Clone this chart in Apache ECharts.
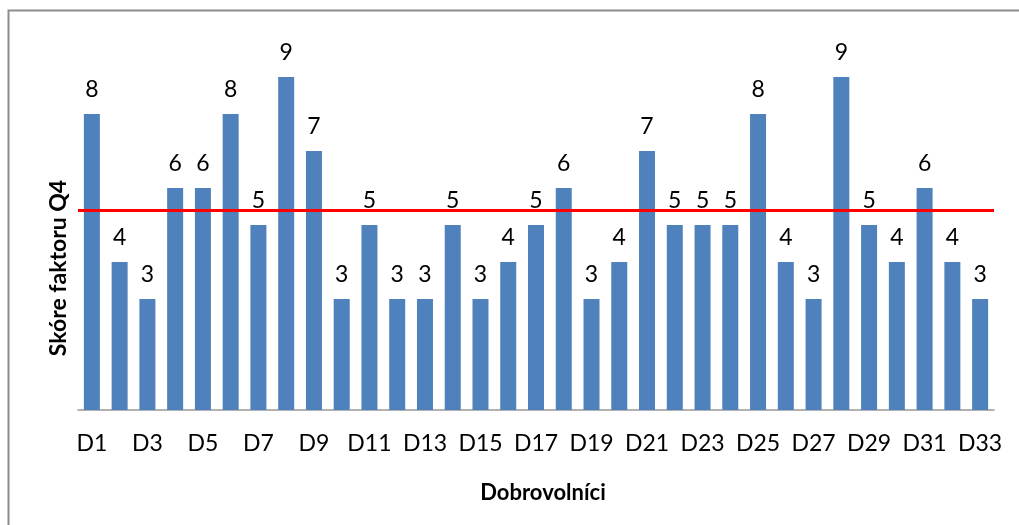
<!DOCTYPE html>
<html>
<head>
<meta charset="utf-8">
<script src="https://cdn.jsdelivr.net/npm/echarts@6/dist/echarts.min.js"></script>
<style>
html,body{margin:0;padding:0;background:#fff;}
#chart{width:1019px;height:525px;}
</style>
</head>
<body>
<div id="chart"></div>
<script>
const categories = ['D1','D2','D3','D4','D5','D6','D7','D8','D9','D10','D11','D12','D13','D14','D15','D16','D17','D18','D19','D20','D21','D22','D23','D24','D25','D26','D27','D28','D29','D30','D31','D32','D33'];
const scores = [8,4,3,6,6,8,5,9,7,3,5,3,3,5,3,4,5,6,3,4,7,5,5,5,8,4,3,9,5,4,6,4,3];
const referenceLevel = 5.4;
const yTitle = 'Skóre faktoru Q4';
const xTitle = 'Dobrovolníci';

const chart = echarts.init(document.getElementById('chart'));
chart.setOption({
  animation: false,
  backgroundColor: '#fff',
  textStyle: { fontFamily: 'Lato' },
  graphic: [
    { type: 'rect', shape: { x: 8.5, y: 10.5, width: 1100, height: 600 }, style: { fill: 'none', stroke: '#8c8c8c', lineWidth: 2 }, z: -1 },
    { type: 'text', x: 59, y: 268, rotation: Math.PI / 2, style: { text: yTitle, font: 'bold 23px Lato', fill: '#000', align: 'center', verticalAlign: 'middle' } },
    { type: 'text', x: 543, y: 493, style: { text: xTitle, font: 'bold 22px Lato', fill: '#000', align: 'center', verticalAlign: 'middle' } }
  ],
  grid: { left: 78, right: 25, top: 40, bottom: 115, containLabel: false },
  xAxis: {
    type: 'category',
    data: categories,
    axisLine: { lineStyle: { color: '#999', width: 1.5 } },
    axisTick: { show: false },
    axisLabel: { interval: 1, color: '#000', fontSize: 23, fontFamily: 'Lato', margin: 22 }
  },
  yAxis: {
    type: 'value', min: 0, max: 10,
    axisLine: { show: false }, axisTick: { show: false },
    axisLabel: { show: false }, splitLine: { show: false }
  },
  series: [{
    type: 'bar',
    data: scores,
    barWidth: 16,
    itemStyle: { color: '#4F81BD' },
    label: { show: true, position: 'top', distance: 13, color: '#000', fontSize: 23, fontFamily: 'Lato' },
    markLine: {
      silent: true, symbol: 'none',
      label: { show: false },
      lineStyle: { color: '#FF0000', width: 3, type: 'solid' },
      data: [{ yAxis: referenceLevel }]
    }
  }]
});
</script>
</body>
</html>
